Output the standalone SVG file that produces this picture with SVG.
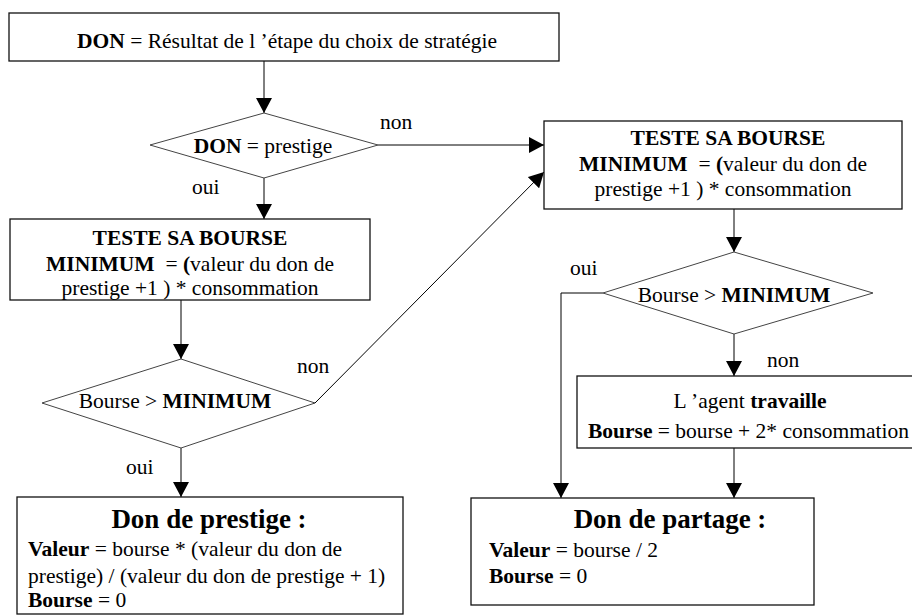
<svg xmlns="http://www.w3.org/2000/svg" width="912" height="616" viewBox="0 0 912 616" font-family="'Liberation Serif', 'Times New Roman', 'DejaVu Serif', serif">
<style>
text{font-family:'Liberation Serif','Times New Roman','DejaVu Serif',serif;font-size:21.5px;fill:#000}
.b{font-weight:bold}
.h{font-weight:bold;font-size:27px}
.c{text-anchor:middle}
.box{fill:#fff;stroke:#111;stroke-width:1.3}
.dia{fill:#fff;stroke:#444;stroke-width:1}
.ln{fill:none;stroke:#000;stroke-width:1}
</style>
<defs>
<marker id="ah" markerUnits="userSpaceOnUse" markerWidth="16" markerHeight="16" refX="15" refY="8" orient="auto">
<path d="M0,0 L15,8 L0,16 Z" fill="#000"/>
</marker>
</defs>
<rect width="912" height="616" fill="#fff"/>
<g id="connectors">
<line class="ln" x1="264" y1="61" x2="264" y2="113" marker-end="url(#ah)"/>
<line class="ln" x1="378" y1="145" x2="544" y2="145" marker-end="url(#ah)"/>
<line class="ln" x1="264" y1="178" x2="264" y2="219" marker-end="url(#ah)"/>
<line class="ln" x1="181" y1="300" x2="181" y2="359" marker-end="url(#ah)"/>
<line class="ln" x1="315" y1="403" x2="544" y2="172" stroke="#333" marker-end="url(#ah)"/>
<line class="ln" x1="181" y1="448" x2="181" y2="497" marker-end="url(#ah)"/>
<line class="ln" x1="734" y1="209" x2="734" y2="252" marker-end="url(#ah)"/>
<polyline class="ln" points="603,293 561,293 561,498" marker-end="url(#ah)"/>
<line class="ln" x1="734" y1="334" x2="734" y2="376" marker-end="url(#ah)"/>
<line class="ln" x1="734" y1="448" x2="734" y2="498" marker-end="url(#ah)"/>
<text x="380" y="129">non</text>
<text x="192" y="194">oui</text>
<text x="297" y="373">non</text>
<text x="126" y="474">oui</text>
<text x="570" y="275">oui</text>
<text x="767" y="367">non</text>
</g>
<g id="start">
<rect class="box" x="9" y="13" width="550" height="48"/>
<text class="c" x="287" y="48" font-size="22"><tspan class="b">DON</tspan> = Résultat de l ’étape du choix de stratégie</text>
</g>
<g id="dec-don">
<polygon class="dia" points="264,113 378,145 264,178 150,145"/>
<text class="c" x="263" y="153"><tspan class="b">DON</tspan> = prestige</text>
</g>
<g id="test-left">
<rect class="box" x="10" y="219" width="360" height="81"/>
<text class="c b" x="190" y="245">TESTE SA BOURSE</text>
<text class="c" x="190" y="271" xml:space="preserve"><tspan class="b">MINIMUM</tspan>  = <tspan class="b">(</tspan>valeur du don de</text>
<text class="c" x="190" y="295">prestige +1 ) * consommation</text>
</g>
<g id="dec-left">
<polygon class="dia" points="181,359 315,403 181,448 42,403"/>
<text class="c" x="175" y="408">Bourse &gt; <tspan class="b">MINIMUM</tspan></text>
</g>
<g id="don-prestige">
<rect class="box" x="17" y="497" width="386" height="117"/>
<text class="h c" x="209" y="528">Don de prestige :</text>
<text x="28" y="556"><tspan class="b">Valeur</tspan> = bourse * (valeur du don de</text>
<text x="28" y="583">prestige) / (valeur du don de prestige + 1)</text>
<text x="28" y="607"><tspan class="b">Bourse</tspan> = 0</text>
</g>
<g id="test-right">
<rect class="box" x="544" y="121" width="358" height="88"/>
<text class="c b" x="728" y="145">TESTE SA BOURSE</text>
<text class="c" x="723" y="171" xml:space="preserve"><tspan class="b">MINIMUM</tspan>  = <tspan class="b">(</tspan>valeur du don de</text>
<text class="c" x="723" y="196">prestige +1 ) * consommation</text>
</g>
<g id="dec-right">
<polygon class="dia" points="734,252 873,293 734,334 603,293"/>
<text class="c" x="734" y="302">Bourse &gt; <tspan class="b">MINIMUM</tspan></text>
</g>
<g id="travaille">
<rect class="box" x="577" y="376" width="345" height="72"/>
<text class="c" x="750" y="408">L ’agent <tspan class="b">travaille</tspan></text>
<text x="588" y="438" textLength="321" lengthAdjust="spacing"><tspan class="b">Bourse</tspan> = bourse + 2* consommation</text>
</g>
<g id="don-partage">
<rect class="box" x="471" y="498" width="343" height="107"/>
<text class="h c" x="670" y="528">Don de partage :</text>
<text x="489" y="557"><tspan class="b">Valeur</tspan> = bourse / 2</text>
<text x="489" y="583"><tspan class="b">Bourse</tspan> = 0</text>
</g>
</svg>
